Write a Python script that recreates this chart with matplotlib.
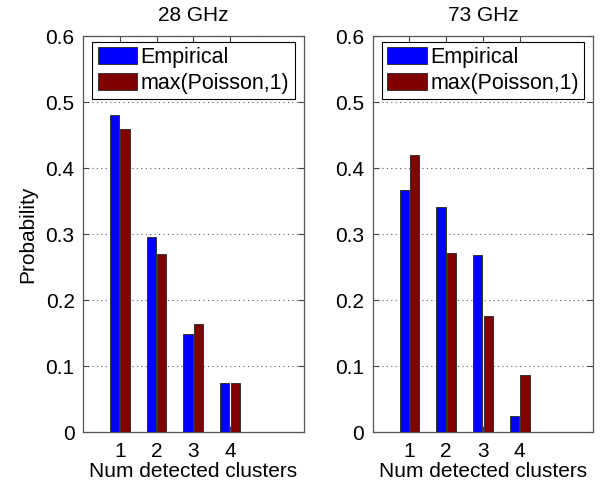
import matplotlib.pyplot as plt
import numpy as np

plt.rcParams['font.family'] = ['Liberation Sans', 'DejaVu Sans']

# data
clusters = [1, 2, 3, 4]
titles = ["28 GHz", "73 GHz"]
empirical_28 = [0.481, 0.296, 0.148, 0.074]
poisson_28 = [0.459, 0.269, 0.163, 0.075]
empirical_73 = [0.366, 0.341, 0.268, 0.024]
poisson_73 = [0.420, 0.271, 0.176, 0.087]
series_names = ["Empirical", "max(Poisson,1)"]
yticks = [0, 0.1, 0.2, 0.3, 0.4, 0.5, 0.6]

fig = plt.figure(figsize=(6.02, 4.82), dpi=100)
ax1 = fig.add_axes([0.1379, 0.1037, 0.3663, 0.8216])
ax2 = fig.add_axes([0.6191, 0.1037, 0.3663, 0.8216])

x = np.array(clusters)
w = 0.25
off = 0.143
fs = 15

for ax, title, emp, poi in [(ax1, titles[0], empirical_28, poisson_28),
                            (ax2, titles[1], empirical_73, poisson_73)]:
    ax.bar(x - off, emp, width=w, color='#0000ff', edgecolor='#333333',
           linewidth=0.7, label=series_names[0], zorder=3)
    ax.bar(x + off, poi, width=w, color='#800000', edgecolor='#333333',
           linewidth=0.7, label=series_names[1], zorder=3)
    ax.set_xlim(0, 6)
    ax.set_ylim(0, 0.6)
    ax.set_xticks(clusters)
    ax.set_yticks(yticks)
    ax.set_yticklabels(['0' if t == 0 else f"{t:.1f}" for t in yticks])
    ax.tick_params(direction='in', length=4, width=0.8, top=True, right=True,
                   labelsize=fs, colors='#444444', labelcolor='black')
    ax.tick_params(axis='x', pad=7)
    ax.tick_params(axis='y', pad=6)
    ax.yaxis.grid(True, linestyle=(0, (1, 3)), color='#555555', linewidth=0.8)
    ax.set_axisbelow(True)
    for s in ax.spines.values():
        s.set_color('#555555')
        s.set_linewidth(0.9)
    ax.set_title(title, fontsize=fs, pad=11)
    ax.set_xlabel("Num detected clusters", fontsize=fs, labelpad=1)
    leg = ax.legend(loc='upper left', bbox_to_anchor=(0.042, 0.985),
                    borderaxespad=0, fontsize=15.5, fancybox=False,
                    edgecolor='black', framealpha=1, handlelength=1.85,
                    handleheight=0.85, handletextpad=0.15, labelspacing=0.2,
                    borderpad=0.25)
    leg.get_frame().set_linewidth(0.8)

ax1.set_ylabel("Probability", fontsize=fs, labelpad=6)

plt.savefig("out.png", dpi=100)
